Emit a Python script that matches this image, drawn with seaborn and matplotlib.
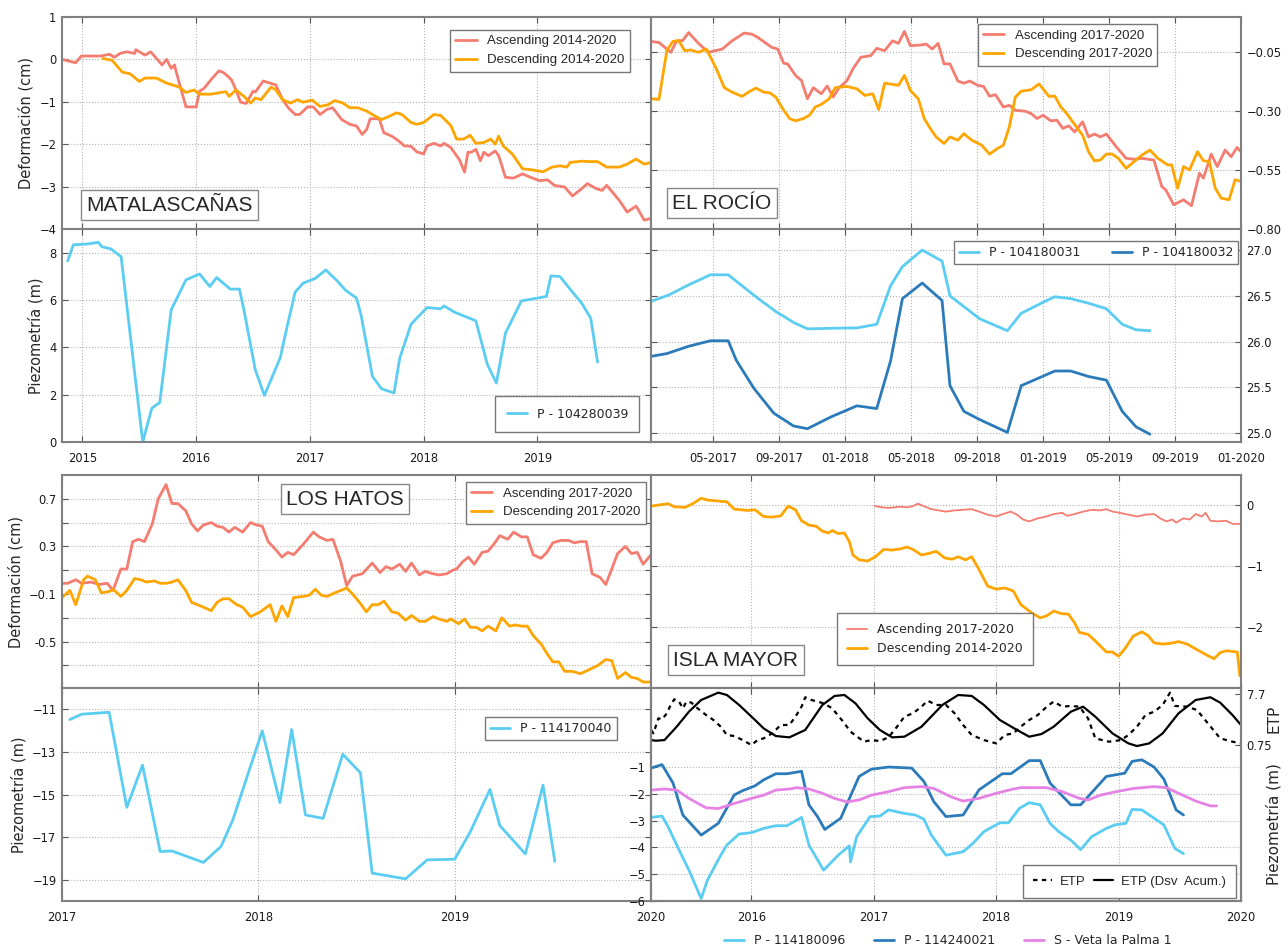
import matplotlib
matplotlib.use('Agg')
import matplotlib.pyplot as plt
import pandas as pd
import seaborn as sns

# Colores
ASC = '#F47C70'
DESC = '#FFA500'
AZUL_CLARO = '#5BCDF2'
AZUL = '#2B7BBA'
VIOLETA = '#E583E5'

# ---- datos: (año decimal, valor) ----
# MATALASCAÑAS - deformación (cm)
mat_asc = [(2014.82, 0.00), (2014.94, -0.08), (2014.99, 0.08), (2015.16, 0.08), (2015.24, 0.12),
           (2015.28, 0.05), (2015.33, 0.14), (2015.39, 0.18), (2015.46, 0.14), (2015.47, 0.23),
           (2015.55, 0.10), (2015.60, 0.18), (2015.70, -0.13), (2015.74, 0.00), (2015.78, -0.21),
           (2015.81, -0.13), (2015.82, -0.25), (2015.91, -1.12), (2016.00, -1.12), (2016.03, -0.75),
           (2016.07, -0.68), (2016.13, -0.48), (2016.20, -0.27), (2016.24, -0.31), (2016.28, -0.40),
           (2016.31, -0.48), (2016.35, -0.72), (2016.39, -1.01), (2016.44, -1.04), (2016.50, -0.75),
           (2016.52, -0.77), (2016.59, -0.51), (2016.65, -0.56), (2016.70, -0.60), (2016.76, -0.95),
           (2016.81, -1.14), (2016.87, -1.30), (2016.91, -1.30), (2016.98, -1.12), (2017.03, -1.12),
           (2017.09, -1.30), (2017.15, -1.18), (2017.20, -1.14), (2017.28, -1.42), (2017.35, -1.53),
           (2017.41, -1.57), (2017.46, -1.77), (2017.50, -1.65), (2017.53, -1.40), (2017.61, -1.40),
           (2017.65, -1.73), (2017.72, -1.81), (2017.78, -1.92), (2017.83, -2.04), (2017.89, -2.05),
           (2017.94, -2.18), (2018.00, -2.23), (2018.03, -2.04), (2018.09, -1.98), (2018.15, -2.04),
           (2018.18, -1.98), (2018.24, -2.08), (2018.29, -2.27), (2018.32, -2.39), (2018.36, -2.66),
           (2018.39, -2.19), (2018.42, -2.19), (2018.46, -2.12), (2018.50, -2.39), (2018.53, -2.19),
           (2018.57, -2.27), (2018.63, -2.16), (2018.66, -2.27), (2018.72, -2.78), (2018.79, -2.80),
           (2018.87, -2.70), (2018.94, -2.78), (2019.02, -2.86), (2019.09, -2.84), (2019.15, -2.97),
           (2019.24, -3.01), (2019.31, -3.22), (2019.39, -3.05), (2019.44, -2.93), (2019.52, -3.05),
           (2019.57, -3.09), (2019.61, -2.97), (2019.66, -3.13), (2019.72, -3.32), (2019.79, -3.60),
           (2019.87, -3.46), (2019.94, -3.79), (2020.00, -3.75)]
mat_desc = [(2015.18, 0.02), (2015.26, -0.02), (2015.35, -0.30), (2015.42, -0.34), (2015.50, -0.52),
            (2015.55, -0.44), (2015.65, -0.44), (2015.74, -0.56), (2015.85, -0.65), (2015.91, -0.78),
            (2015.98, -0.72), (2016.03, -0.82), (2016.13, -0.82), (2016.26, -0.76), (2016.29, -0.87),
            (2016.35, -0.72), (2016.42, -0.87), (2016.48, -1.03), (2016.52, -0.91), (2016.57, -0.95),
            (2016.66, -0.65), (2016.70, -0.72), (2016.76, -0.95), (2016.83, -1.03), (2016.89, -0.95),
            (2016.94, -1.01), (2017.02, -0.96), (2017.09, -1.11), (2017.16, -1.07), (2017.22, -0.97),
            (2017.29, -1.03), (2017.35, -1.14), (2017.42, -1.14), (2017.50, -1.22), (2017.55, -1.30),
            (2017.63, -1.42), (2017.70, -1.34), (2017.76, -1.26), (2017.81, -1.30), (2017.89, -1.49),
            (2017.94, -1.53), (2018.00, -1.49), (2018.09, -1.30), (2018.15, -1.32), (2018.24, -1.56),
            (2018.29, -1.88), (2018.35, -1.88), (2018.41, -1.79), (2018.46, -1.98), (2018.53, -1.96),
            (2018.59, -1.88), (2018.63, -2.00), (2018.66, -1.81), (2018.70, -2.04), (2018.78, -2.23),
            (2018.87, -2.58), (2018.94, -2.60), (2019.05, -2.65), (2019.13, -2.54), (2019.20, -2.51),
            (2019.26, -2.54), (2019.29, -2.43), (2019.39, -2.40), (2019.46, -2.41), (2019.53, -2.41),
            (2019.61, -2.54), (2019.72, -2.54), (2019.79, -2.47), (2019.87, -2.35), (2019.94, -2.47),
            (2020.00, -2.43)]

# P - 104280039 (m)
p_104280039 = [(2014.87, 7.65), (2014.92, 8.33), (2015.05, 8.37), (2015.14, 8.44), (2015.17, 8.25),
               (2015.25, 8.16), (2015.34, 7.83), (2015.53, 0.00), (2015.61, 1.43), (2015.68, 1.67),
               (2015.78, 5.58), (2015.91, 6.85), (2016.03, 7.10), (2016.12, 6.57), (2016.18, 6.95),
               (2016.30, 6.46), (2016.38, 6.46), (2016.42, 5.58), (2016.52, 3.05), (2016.60, 1.97),
               (2016.74, 3.57), (2016.80, 4.88), (2016.87, 6.33), (2016.94, 6.71), (2017.05, 6.92),
               (2017.14, 7.27), (2017.24, 6.81), (2017.31, 6.43), (2017.41, 6.08), (2017.45, 5.37),
               (2017.55, 2.77), (2017.63, 2.25), (2017.74, 2.07), (2017.79, 3.54), (2017.89, 4.98),
               (2018.03, 5.68), (2018.15, 5.63), (2018.18, 5.75), (2018.27, 5.49), (2018.46, 5.12),
               (2018.56, 3.29), (2018.64, 2.49), (2018.72, 4.60), (2018.86, 5.96), (2019.08, 6.15),
               (2019.12, 7.02), (2019.20, 6.99), (2019.30, 6.39), (2019.39, 5.87), (2019.47, 5.23),
               (2019.53, 3.38)]

# EL ROCÍO - deformación (cm)
roc_asc = [(2017.02, -0.004), (2017.06, -0.008), (2017.12, -0.050), (2017.15, -0.001), (2017.18, 0.000),
           (2017.21, 0.034), (2017.26, -0.012), (2017.31, -0.050), (2017.38, -0.036), (2017.43, -0.001),
           (2017.49, 0.032), (2017.53, 0.027), (2017.56, 0.013), (2017.63, -0.029), (2017.66, -0.036),
           (2017.69, -0.096), (2017.71, -0.099), (2017.75, -0.148), (2017.78, -0.170), (2017.81, -0.247),
           (2017.84, -0.200), (2017.88, -0.226), (2017.91, -0.193), (2017.94, -0.240), (2017.97, -0.200),
           (2018.01, -0.170), (2018.04, -0.120), (2018.08, -0.071), (2018.13, -0.064), (2018.16, -0.033),
           (2018.20, -0.043), (2018.24, -0.001), (2018.27, -0.012), (2018.30, 0.039), (2018.33, -0.022),
           (2018.38, -0.019), (2018.41, -0.015), (2018.44, -0.036), (2018.47, -0.012), (2018.50, -0.099),
           (2018.53, -0.099), (2018.57, -0.172), (2018.60, -0.181), (2018.63, -0.172), (2018.67, -0.190),
           (2018.70, -0.195), (2018.73, -0.236), (2018.76, -0.230), (2018.80, -0.282), (2018.83, -0.275),
           (2018.86, -0.296), (2018.91, -0.300), (2018.94, -0.310), (2018.97, -0.331), (2019.00, -0.317),
           (2019.04, -0.341), (2019.07, -0.338), (2019.10, -0.373), (2019.13, -0.362), (2019.16, -0.388),
           (2019.20, -0.345), (2019.23, -0.409), (2019.26, -0.397), (2019.29, -0.409), (2019.32, -0.397),
           (2019.37, -0.451), (2019.42, -0.500), (2019.46, -0.504), (2019.50, -0.500), (2019.53, -0.504),
           (2019.56, -0.507), (2019.60, -0.620), (2019.62, -0.634), (2019.66, -0.697), (2019.71, -0.676),
           (2019.75, -0.701), (2019.79, -0.563), (2019.81, -0.584), (2019.85, -0.482), (2019.88, -0.535),
           (2019.92, -0.465), (2019.95, -0.493), (2019.98, -0.454), (2020.00, -0.472)]
roc_desc = [(2017.02, -0.247), (2017.06, -0.250), (2017.10, -0.043), (2017.13, -0.004), (2017.16, 0.000),
            (2017.19, -0.043), (2017.22, -0.040), (2017.26, -0.050), (2017.30, -0.036), (2017.35, -0.120),
            (2017.39, -0.200), (2017.43, -0.219), (2017.48, -0.237), (2017.52, -0.215), (2017.55, -0.202),
            (2017.59, -0.219), (2017.62, -0.222), (2017.65, -0.240), (2017.69, -0.296), (2017.72, -0.331),
            (2017.75, -0.341), (2017.79, -0.331), (2017.82, -0.317), (2017.85, -0.282), (2017.88, -0.271),
            (2017.92, -0.247), (2017.95, -0.200), (2018.01, -0.195), (2018.06, -0.205), (2018.10, -0.233),
            (2018.14, -0.226), (2018.17, -0.293), (2018.20, -0.181), (2018.27, -0.190), (2018.30, -0.148),
            (2018.33, -0.212), (2018.37, -0.247), (2018.40, -0.331), (2018.43, -0.373), (2018.46, -0.409),
            (2018.50, -0.437), (2018.53, -0.409), (2018.57, -0.423), (2018.60, -0.395), (2018.64, -0.423),
            (2018.69, -0.444), (2018.73, -0.482), (2018.77, -0.458), (2018.80, -0.444), (2018.83, -0.366),
            (2018.86, -0.240), (2018.89, -0.215), (2018.94, -0.209), (2018.98, -0.184), (2019.03, -0.237),
            (2019.06, -0.236), (2019.09, -0.282), (2019.12, -0.310), (2019.15, -0.345), (2019.20, -0.402),
            (2019.23, -0.472), (2019.26, -0.511), (2019.29, -0.507), (2019.32, -0.482), (2019.35, -0.482),
            (2019.38, -0.500), (2019.42, -0.542), (2019.46, -0.514), (2019.50, -0.486), (2019.54, -0.465),
            (2019.58, -0.500), (2019.63, -0.528), (2019.65, -0.528), (2019.68, -0.627), (2019.71, -0.535),
            (2019.74, -0.549), (2019.78, -0.472), (2019.81, -0.510), (2019.84, -0.514), (2019.87, -0.627),
            (2019.90, -0.669), (2019.94, -0.676), (2019.97, -0.591), (2020.00, -0.598)]

# P - 104180031 / P - 104180032 (m)
p_104180031 = [(2017.02, 26.44), (2017.11, 26.51), (2017.21, 26.62), (2017.32, 26.73), (2017.41, 26.73),
               (2017.55, 26.49), (2017.65, 26.33), (2017.74, 26.21), (2017.81, 26.14), (2018.01, 26.15),
               (2018.06, 26.15), (2018.16, 26.19), (2018.23, 26.61), (2018.29, 26.82), (2018.39, 27.00),
               (2018.49, 26.88), (2018.53, 26.50), (2018.59, 26.40), (2018.68, 26.25), (2018.82, 26.12),
               (2018.89, 26.31), (2019.01, 26.44), (2019.06, 26.49), (2019.14, 26.47), (2019.23, 26.42),
               (2019.32, 26.36), (2019.40, 26.19), (2019.47, 26.13), (2019.54, 26.12)]
p_104180032 = [(2017.02, 25.84), (2017.10, 25.87), (2017.21, 25.95), (2017.32, 26.01), (2017.41, 26.01),
               (2017.45, 25.80), (2017.54, 25.49), (2017.64, 25.22), (2017.74, 25.08), (2017.81, 25.05),
               (2017.93, 25.18), (2018.06, 25.30), (2018.16, 25.27), (2018.23, 25.79), (2018.29, 26.47),
               (2018.39, 26.64), (2018.49, 26.45), (2018.53, 25.52), (2018.60, 25.24), (2018.68, 25.15),
               (2018.82, 25.01), (2018.89, 25.52), (2019.06, 25.68), (2019.14, 25.68), (2019.23, 25.62),
               (2019.32, 25.58), (2019.40, 25.24), (2019.47, 25.07), (2019.54, 24.99)]

# LOS HATOS - deformación (cm)
hat_asc = [(2017.00, -0.01), (2017.03, -0.01), (2017.07, 0.02), (2017.10, -0.01), (2017.15, 0.00),
           (2017.19, -0.02), (2017.23, -0.01), (2017.26, -0.07), (2017.30, 0.11), (2017.33, 0.11),
           (2017.36, 0.34), (2017.39, 0.36), (2017.42, 0.34), (2017.46, 0.49), (2017.49, 0.70),
           (2017.53, 0.82), (2017.56, 0.66), (2017.59, 0.66), (2017.63, 0.60), (2017.66, 0.49),
           (2017.69, 0.43), (2017.72, 0.48), (2017.76, 0.50), (2017.79, 0.47), (2017.82, 0.46),
           (2017.85, 0.42), (2017.88, 0.46), (2017.92, 0.42), (2017.96, 0.50), (2017.99, 0.48),
           (2018.02, 0.47), (2018.05, 0.34), (2018.09, 0.27), (2018.12, 0.21), (2018.15, 0.25),
           (2018.18, 0.23), (2018.23, 0.32), (2018.28, 0.42), (2018.31, 0.38), (2018.35, 0.35),
           (2018.38, 0.36), (2018.42, 0.17), (2018.45, -0.03), (2018.48, 0.05), (2018.53, 0.07),
           (2018.58, 0.16), (2018.62, 0.08), (2018.65, 0.13), (2018.68, 0.11), (2018.72, 0.15),
           (2018.75, 0.09), (2018.78, 0.16), (2018.82, 0.06), (2018.85, 0.09), (2018.89, 0.07),
           (2018.92, 0.06), (2018.96, 0.07), (2018.99, 0.10), (2019.01, 0.11), (2019.04, 0.17),
           (2019.07, 0.21), (2019.10, 0.15), (2019.14, 0.25), (2019.17, 0.26), (2019.20, 0.32),
           (2019.23, 0.39), (2019.27, 0.36), (2019.30, 0.42), (2019.34, 0.38), (2019.37, 0.38),
           (2019.40, 0.23), (2019.44, 0.20), (2019.47, 0.25), (2019.50, 0.33), (2019.54, 0.35),
           (2019.58, 0.35), (2019.61, 0.33), (2019.64, 0.34), (2019.67, 0.34), (2019.70, 0.07),
           (2019.74, 0.04), (2019.77, -0.02), (2019.83, 0.24), (2019.87, 0.30), (2019.90, 0.24),
           (2019.93, 0.25), (2019.96, 0.15), (2020.00, 0.23)]
hat_desc = [(2017.00, -0.13), (2017.04, -0.07), (2017.07, -0.19), (2017.11, 0.02), (2017.13, 0.05),
            (2017.17, 0.02), (2017.20, -0.09), (2017.24, -0.08), (2017.26, -0.06), (2017.30, -0.12),
            (2017.33, -0.07), (2017.37, 0.03), (2017.40, 0.02), (2017.43, 0.00), (2017.47, 0.01),
            (2017.50, -0.01), (2017.53, -0.01), (2017.56, 0.00), (2017.59, 0.02), (2017.63, -0.07),
            (2017.66, -0.17), (2017.72, -0.21), (2017.76, -0.24), (2017.79, -0.17), (2017.82, -0.14),
            (2017.85, -0.14), (2017.89, -0.19), (2017.92, -0.21), (2017.96, -0.29), (2018.01, -0.25),
            (2018.06, -0.19), (2018.09, -0.33), (2018.12, -0.20), (2018.15, -0.29), (2018.18, -0.13),
            (2018.23, -0.12), (2018.26, -0.11), (2018.29, -0.06), (2018.32, -0.11), (2018.35, -0.12),
            (2018.39, -0.09), (2018.45, -0.05), (2018.48, -0.10), (2018.52, -0.18), (2018.55, -0.25),
            (2018.58, -0.19), (2018.61, -0.19), (2018.64, -0.16), (2018.68, -0.25), (2018.71, -0.26),
            (2018.75, -0.32), (2018.78, -0.28), (2018.82, -0.33), (2018.85, -0.33), (2018.89, -0.29),
            (2018.92, -0.31), (2018.96, -0.33), (2018.98, -0.31), (2019.02, -0.35), (2019.05, -0.31),
            (2019.08, -0.38), (2019.11, -0.38), (2019.14, -0.41), (2019.17, -0.37), (2019.21, -0.41),
            (2019.24, -0.30), (2019.28, -0.37), (2019.31, -0.36), (2019.34, -0.37), (2019.37, -0.37),
            (2019.40, -0.45), (2019.44, -0.52), (2019.47, -0.60), (2019.50, -0.67), (2019.53, -0.67),
            (2019.56, -0.75), (2019.60, -0.75), (2019.64, -0.77), (2019.68, -0.74), (2019.73, -0.70),
            (2019.77, -0.65), (2019.80, -0.66), (2019.83, -0.81), (2019.87, -0.76), (2019.90, -0.80),
            (2019.93, -0.81), (2019.96, -0.84), (2020.00, -0.84)]

# P - 114170040 (m)
p_114170040 = [(2017.04, -11.48), (2017.10, -11.23), (2017.24, -11.14), (2017.33, -15.60), (2017.41, -13.62),
               (2017.50, -17.68), (2017.56, -17.65), (2017.72, -18.19), (2017.81, -17.44), (2017.87, -16.19),
               (2018.02, -12.01), (2018.11, -15.38), (2018.17, -11.95), (2018.24, -15.96), (2018.33, -16.12),
               (2018.43, -13.11), (2018.52, -13.98), (2018.58, -18.69), (2018.75, -18.96), (2018.86, -18.07),
               (2019.00, -18.04), (2019.08, -16.74), (2019.18, -14.76), (2019.23, -16.46), (2019.36, -17.79),
               (2019.45, -14.56), (2019.51, -18.14)]

# ISLA MAYOR - deformación (cm)
isl_asc = [(2017.01, -0.02), (2017.07, -0.04), (2017.12, -0.05), (2017.17, -0.04), (2017.22, -0.03),
           (2017.27, -0.04), (2017.32, -0.02), (2017.36, 0.02), (2017.42, -0.03), (2017.47, -0.07),
           (2017.53, -0.09), (2017.59, -0.11), (2017.66, -0.09), (2017.73, -0.08), (2017.80, -0.07),
           (2017.86, -0.11), (2017.93, -0.16), (2018.00, -0.19), (2018.07, -0.14), (2018.12, -0.11),
           (2018.17, -0.16), (2018.22, -0.24), (2018.27, -0.27), (2018.34, -0.22), (2018.41, -0.19),
           (2018.47, -0.15), (2018.54, -0.13), (2018.58, -0.18), (2018.64, -0.15), (2018.71, -0.11),
           (2018.78, -0.08), (2018.85, -0.09), (2018.90, -0.07), (2018.95, -0.11), (2019.01, -0.13),
           (2019.08, -0.16), (2019.15, -0.19), (2019.22, -0.16), (2019.29, -0.15), (2019.34, -0.22),
           (2019.39, -0.27), (2019.44, -0.24), (2019.47, -0.29), (2019.53, -0.22), (2019.58, -0.24),
           (2019.63, -0.15), (2019.68, -0.19), (2019.71, -0.13), (2019.75, -0.26), (2019.81, -0.27),
           (2019.88, -0.26), (2019.93, -0.31), (2020.00, -0.31)]
isl_desc = [(2015.18, -0.02), (2015.25, 0.00), (2015.32, 0.02), (2015.37, -0.03), (2015.46, -0.04),
            (2015.53, 0.03), (2015.59, 0.11), (2015.64, 0.08), (2015.80, 0.05), (2015.86, -0.07),
            (2015.97, -0.09), (2016.03, -0.08), (2016.10, -0.19), (2016.17, -0.20), (2016.24, -0.18),
            (2016.30, -0.02), (2016.36, -0.08), (2016.41, -0.26), (2016.47, -0.33), (2016.53, -0.35),
            (2016.58, -0.43), (2016.63, -0.46), (2016.66, -0.42), (2016.71, -0.47), (2016.76, -0.46),
            (2016.80, -0.60), (2016.83, -0.82), (2016.88, -0.90), (2016.95, -0.92), (2017.02, -0.84),
            (2017.08, -0.73), (2017.15, -0.74), (2017.22, -0.72), (2017.27, -0.69), (2017.32, -0.73),
            (2017.39, -0.82), (2017.46, -0.79), (2017.51, -0.76), (2017.58, -0.87), (2017.64, -0.89),
            (2017.69, -0.85), (2017.75, -0.90), (2017.80, -0.85), (2017.86, -1.06), (2017.93, -1.33),
            (2018.00, -1.38), (2018.07, -1.36), (2018.14, -1.41), (2018.20, -1.63), (2018.29, -1.77),
            (2018.36, -1.85), (2018.41, -1.82), (2018.47, -1.74), (2018.53, -1.78), (2018.59, -1.79),
            (2018.64, -1.93), (2018.68, -2.09), (2018.75, -2.12), (2018.81, -2.23), (2018.90, -2.41),
            (2018.95, -2.41), (2019.00, -2.48), (2019.05, -2.36), (2019.12, -2.15), (2019.19, -2.08),
            (2019.24, -2.14), (2019.29, -2.26), (2019.36, -2.28), (2019.42, -2.27), (2019.49, -2.24),
            (2019.56, -2.28), (2019.63, -2.36), (2019.71, -2.45), (2019.78, -2.52), (2019.83, -2.42),
            (2019.88, -2.39), (2019.97, -2.41), (2019.99, -2.80), (2020.00, -2.80)]

# ETP y ETP (desviación acumulada)
etp = [(2015.18, 2.80), (2015.20, 2.34), (2015.24, 4.39), (2015.27, 4.25), (2015.31, 5.07), (2015.34, 6.20),
       (2015.37, 6.97), (2015.41, 6.66), (2015.44, 5.75), (2015.47, 6.66), (2015.51, 6.52), (2015.56, 5.75),
       (2015.63, 4.84), (2015.69, 4.16), (2015.75, 3.25), (2015.80, 2.12), (2015.86, 1.98), (2015.93, 1.43),
       (2016.00, 0.75), (2016.05, 1.43), (2016.10, 1.66), (2016.17, 2.34), (2016.24, 3.48), (2016.31, 3.48),
       (2016.36, 4.61), (2016.41, 5.97), (2016.44, 7.25), (2016.49, 6.88), (2016.54, 6.66), (2016.59, 6.43),
       (2016.66, 5.75), (2016.75, 3.93), (2016.81, 2.57), (2016.92, 1.21), (2016.98, 1.43), (2017.05, 1.30),
       (2017.12, 1.80), (2017.19, 3.25), (2017.25, 4.61), (2017.32, 5.07), (2017.39, 5.97), (2017.44, 6.79),
       (2017.51, 6.20), (2017.59, 6.20), (2017.66, 5.07), (2017.73, 3.48), (2017.80, 2.12), (2017.90, 1.43),
       (2018.00, 0.98), (2018.07, 2.12), (2018.14, 2.34), (2018.20, 3.25), (2018.27, 4.16), (2018.34, 4.84),
       (2018.42, 6.07), (2018.47, 6.66), (2018.54, 5.97), (2018.61, 6.07), (2018.68, 5.97), (2018.75, 4.39),
       (2018.81, 1.66), (2018.92, 1.21), (2019.02, 1.43), (2019.08, 2.12), (2019.15, 3.25), (2019.22, 4.84),
       (2019.29, 5.29), (2019.36, 6.20), (2019.42, 7.88), (2019.46, 6.07), (2019.56, 5.97), (2019.64, 5.52),
       (2019.73, 3.70), (2019.83, 1.66), (2019.93, 1.21), (2020.00, 0.98)]
etp_acum = [(2015.18, 1.43), (2015.22, 1.34), (2015.29, 1.43), (2015.39, 3.25), (2015.49, 5.29), (2015.59, 6.88),
            (2015.73, 7.88), (2015.80, 7.56), (2015.90, 6.20), (2016.03, 4.16), (2016.10, 3.02), (2016.20, 1.98),
            (2016.31, 1.80), (2016.44, 2.80), (2016.58, 6.20), (2016.68, 7.43), (2016.76, 7.56), (2016.85, 6.43),
            (2016.95, 4.39), (2017.05, 2.80), (2017.15, 1.80), (2017.25, 1.89), (2017.39, 3.25), (2017.56, 6.20),
            (2017.69, 7.56), (2017.80, 7.43), (2017.90, 6.20), (2018.03, 4.16), (2018.17, 2.80), (2018.27, 1.89),
            (2018.37, 2.25), (2018.47, 3.25), (2018.61, 5.29), (2018.71, 5.97), (2018.81, 4.61), (2018.95, 2.34),
            (2019.08, 0.98), (2019.15, 0.62), (2019.25, 0.98), (2019.36, 2.34), (2019.49, 5.07), (2019.63, 6.88),
            (2019.75, 7.25), (2019.83, 6.52), (2019.93, 4.84), (2020.00, 3.48)]

# Piezometría Isla Mayor (m)
p_114180096 = [(2015.18, -2.88), (2015.27, -2.83), (2015.32, -3.23), (2015.41, -4.10), (2015.49, -4.85),
               (2015.59, -5.91), (2015.64, -5.23), (2015.75, -4.29), (2015.80, -3.91), (2015.90, -3.50),
               (2016.00, -3.45), (2016.10, -3.29), (2016.20, -3.19), (2016.29, -3.19), (2016.41, -2.88),
               (2016.47, -3.91), (2016.59, -4.85), (2016.71, -4.29), (2016.80, -3.94), (2016.81, -4.54),
               (2016.86, -3.60), (2016.97, -2.85), (2017.05, -2.83), (2017.12, -2.60), (2017.25, -2.73),
               (2017.34, -2.79), (2017.41, -2.95), (2017.47, -3.54), (2017.59, -4.29), (2017.73, -4.16),
               (2017.81, -3.85), (2017.90, -3.41), (2018.03, -3.08), (2018.10, -3.08), (2018.19, -2.54),
               (2018.27, -2.33), (2018.36, -2.41), (2018.44, -3.10), (2018.51, -3.41), (2018.61, -3.73),
               (2018.69, -4.08), (2018.78, -3.60), (2018.90, -3.29), (2018.97, -3.16), (2019.06, -3.10),
               (2019.11, -2.58), (2019.19, -2.60), (2019.37, -3.16), (2019.46, -4.04), (2019.53, -4.23)]
p_114240021 = [(2015.18, -1.04), (2015.27, -0.91), (2015.36, -1.60), (2015.44, -2.79), (2015.59, -3.54),
               (2015.73, -3.10), (2015.86, -2.04), (2015.93, -1.88), (2016.03, -1.70), (2016.10, -1.48),
               (2016.20, -1.25), (2016.29, -1.25), (2016.41, -1.16), (2016.47, -2.41), (2016.54, -2.85),
               (2016.60, -3.33), (2016.73, -2.91), (2016.88, -1.35), (2016.98, -1.08), (2017.12, -1.00),
               (2017.31, -1.04), (2017.41, -1.54), (2017.49, -2.29), (2017.59, -2.85), (2017.73, -2.79),
               (2017.86, -1.85), (2018.05, -1.25), (2018.12, -1.25), (2018.27, -0.76), (2018.36, -0.76),
               (2018.44, -1.60), (2018.61, -2.41), (2018.69, -2.41), (2018.90, -1.35), (2019.05, -1.23),
               (2019.11, -0.79), (2019.19, -0.73), (2019.29, -1.00), (2019.37, -1.45), (2019.47, -2.60),
               (2019.53, -2.79)]
s_veta_palma = [(2015.18, -1.86), (2015.29, -1.82), (2015.39, -1.86), (2015.49, -2.17), (2015.63, -2.52),
                (2015.73, -2.55), (2015.86, -2.36), (2016.00, -2.17), (2016.10, -2.05), (2016.20, -1.86),
                (2016.31, -1.82), (2016.37, -1.77), (2016.47, -1.82), (2016.58, -1.98), (2016.68, -2.17),
                (2016.78, -2.30), (2016.88, -2.23), (2016.98, -2.05), (2017.12, -1.92), (2017.25, -1.77),
                (2017.39, -1.73), (2017.49, -1.80), (2017.63, -2.11), (2017.73, -2.27), (2017.86, -2.17),
                (2018.00, -1.98), (2018.14, -1.82), (2018.20, -1.77), (2018.31, -1.77), (2018.41, -1.77),
                (2018.54, -1.92), (2018.68, -2.17), (2018.75, -2.23), (2018.85, -2.05), (2018.98, -1.92),
                (2019.12, -1.80), (2019.29, -1.73), (2019.39, -1.77), (2019.49, -1.98), (2019.63, -2.27),
                (2019.75, -2.45), (2019.80, -2.45)]

# ticks
years_a = [2015, 2016, 2017, 2018, 2019]
years_b = [2017, 2018, 2019, 2020]
years_c = [2016, 2017, 2018, 2019, 2020]
month_ticks = [2017 + 4/12, 2017 + 8/12, 2018, 2018 + 4/12, 2018 + 8/12, 2019, 2019 + 4/12, 2019 + 8/12, 2020]
month_labels = ['05-2017', '09-2017', '01-2018', '05-2018', '09-2018', '01-2019', '05-2019', '09-2019', '01-2020']

sns.set_style('white')
plt.rcParams['font.family'] = ['DejaVu Sans']

fig = plt.figure(figsize=(12.88, 9.48), dpi=100)
W, H = 1288.0, 948.0


def add(x0, x1, top, bottom):
    return fig.add_axes([x0 / W, 1 - bottom / H, (x1 - x0) / W, (bottom - top) / H])


def trazo(ax, pts, color, label, lw=2.0, ls='-'):
    df = pd.DataFrame(pts, columns=['fecha', 'valor'])
    sns.lineplot(data=df, x='fecha', y='valor', ax=ax, color=color, linewidth=lw,
                 linestyle=ls, label=label, sort=False, estimator=None)


def estilo(ax, lado='left', xlabels=True):
    for s in ax.spines.values():
        s.set_color('#808080')
        s.set_linewidth(1.5)
    ax.tick_params(direction='in', length=4, width=0.8, color='#555555', labelsize=8.3,
                   labelcolor='#1a1a1a', top=True, bottom=True, left=True, right=True)
    ax.tick_params(axis='x', pad=7, labelbottom=xlabels)
    ax.tick_params(axis='y', pad=4)
    if lado == 'right':
        ax.tick_params(axis='y', labelleft=False, labelright=True)
    ax.grid(True, ls=':', lw=0.8, color='#b3b3b3')
    ax.set_xlabel('')
    ax.set_ylabel('')


def leyenda(ax, loc, anchor, family='Liberation Sans', size=9.5, ncol=1, **kw):
    kw.setdefault('handlelength', 1.6)
    lg = ax.legend(loc=loc, bbox_to_anchor=anchor, ncol=ncol, prop={'family': family, 'size': size},
                   frameon=True, fancybox=False, framealpha=1, edgecolor='#777777',
                   borderaxespad=0, **kw)
    lg.get_frame().set_linewidth(1.0)
    return lg


def estacion(ax, txt, x, y, ha='left'):
    ax.text(x, y, txt, transform=ax.transAxes, ha=ha, va='center', fontsize=15,
            family='Liberation Sans', zorder=10,
            bbox=dict(boxstyle='square,pad=0.25', fc='white', ec='#888888', lw=1.0))


# ---------------- fila 1 ----------------
ax1 = add(62, 651, 17, 229)
trazo(ax1, mat_asc, ASC, 'Ascending 2014-2020')
trazo(ax1, mat_desc, DESC, 'Descending 2014-2020')
estilo(ax1, xlabels=False)
ax1.set_xlim(2014.82, 2020.0)
ax1.set_ylim(-4, 1)
ax1.set_xticks(years_a)
ax1.set_yticks([1, 0, -1, -2, -3, -4])
ax1.set_ylabel('Deformación (cm)', fontsize=10.5)
leyenda(ax1, 'upper right', (0.964, 0.939))
estacion(ax1, 'MATALASCAÑAS', 0.041, 0.113)

ax2 = add(651, 1241, 17, 229)
trazo(ax2, roc_asc, ASC, 'Ascending 2017-2020')
trazo(ax2, roc_desc, DESC, 'Descending 2017-2020')
estilo(ax2, 'right', xlabels=False)
ax2.set_xlim(2017.02, 2020.0)
ax2.set_ylim(-0.80, 0.10)
ax2.set_xticks(month_ticks)
ax2.set_yticks([-0.05, -0.30, -0.55, -0.80])
ax2.set_yticklabels(['\u22120.05', '\u22120.30', '\u22120.55', '\u22120.80'])
leyenda(ax2, 'upper right', (0.858, 0.967))
estacion(ax2, 'EL ROCÍO', 0.036, 0.122)

# ---------------- fila 2 ----------------
ax3 = add(62, 651, 229, 442)
trazo(ax3, p_104280039, AZUL_CLARO, 'P - 104280039')
estilo(ax3)
ax3.set_xlim(2014.82, 2020.0)
ax3.set_ylim(0, 9)
ax3.set_xticks(years_a)
ax3.set_xticklabels([str(y) for y in years_a])
ax3.set_yticks([0, 2, 4, 6, 8])
ax3.set_ylabel('Piezometría (m)', fontsize=10.5)
leyenda(ax3, 'lower right', (0.98, 0.047), family='DejaVu Sans', size=9, borderpad=0.9)

ax4 = add(651, 1241, 229, 442)
trazo(ax4, p_104180031, AZUL_CLARO, 'P - 104180031')
trazo(ax4, p_104180032, AZUL, 'P - 104180032')
estilo(ax4, 'right')
ax4.set_xlim(2017.02, 2020.0)
ax4.set_ylim(24.905, 27.23)
ax4.set_xticks(month_ticks)
ax4.set_xticklabels(month_labels)
ax4.set_yticks([25.0, 25.5, 26.0, 26.5, 27.0])
leyenda(ax4, 'upper right', (0.995, 0.944), family='DejaVu Sans', size=9, ncol=2, columnspacing=2.5)

# ---------------- fila 3 ----------------
ax5 = add(62, 651, 475, 688)
trazo(ax5, hat_asc, ASC, 'Ascending 2017-2020')
trazo(ax5, hat_desc, DESC, 'Descending 2017-2020')
estilo(ax5, xlabels=False)
ax5.set_xlim(2017, 2020)
ax5.set_ylim(-0.89, 0.9)
ax5.set_xticks(years_b)
ax5.set_yticks([0.7, 0.5, 0.3, 0.1, -0.1, -0.3, -0.5, -0.7])
ax5.set_yticklabels(['0.7', '', '0.3', '', '\u22120.1', '', '-0.5', ''])
ax5.set_ylabel('Deformación (cm)', fontsize=10.5)
leyenda(ax5, 'upper right', (0.991, 0.967))
estacion(ax5, 'LOS HATOS', 0.481, 0.887, ha='center')

ax6 = add(651, 1241, 475, 688)
trazo(ax6, isl_asc, ASC, 'Ascending 2017-2020', lw=1.3)
trazo(ax6, isl_desc, DESC, 'Descending 2014-2020')
estilo(ax6, 'right', xlabels=False)
ax6.set_xlim(2015.18, 2020.0)
ax6.set_ylim(-3.0, 0.49)
ax6.set_xticks(years_c)
ax6.set_yticks([0, -1, -2])
leyenda(ax6, 'center', (0.481, 0.23), family='DejaVu Sans', size=9, borderpad=0.8)
estacion(ax6, 'ISLA MAYOR', 0.038, 0.131)

# ---------------- fila 4 ----------------
ax7 = add(62, 651, 688, 901)
trazo(ax7, p_114170040, AZUL_CLARO, 'P - 114170040')
estilo(ax7)
ax7.set_xlim(2017, 2020)
ax7.set_ylim(-20, -10)
ax7.set_xticks(years_b)
ax7.set_xticklabels([str(y) for y in years_b])
ax7.set_yticks([-11, -13, -15, -17, -19])
ax7.set_ylabel('Piezometría (m)', fontsize=10.5)
leyenda(ax7, 'upper right', (0.942, 0.864), family='DejaVu Sans', size=9)

ax8 = add(651, 1241, 688, 901)
trazo(ax8, p_114180096, AZUL_CLARO, 'P - 114180096')
trazo(ax8, p_114240021, AZUL, 'P - 114240021')
trazo(ax8, s_veta_palma, VIOLETA, 'S - Veta la Palma 1')
estilo(ax8, 'right')
ax8.set_xlim(2015.18, 2020.0)
ax8.set_ylim(-6, 1.95)
ax8.set_xticks(years_c)
ax8.set_xticklabels([str(y) for y in years_c])
ax8.set_yticks([-1, -2, -3, -4, -5, -6])
handles, labels = ax8.get_legend_handles_labels()
ax8.get_legend().remove()
ax8.yaxis.set_label_position('right')
ax8.set_ylabel('Piezometría (m)', fontsize=11)
ax8.yaxis.set_label_coords(1.043, 0.36)

# ETP en eje gemelo
ax8b = ax8.twinx()
trazo(ax8b, etp, 'black', 'ETP', lw=1.6, ls=(0, (2, 2)))
trazo(ax8b, etp_acum, 'black', 'ETP (Dsv  Acum.)', lw=1.6)
ax8b.set_xlim(2015.18, 2020.0)
ax8b.set_ylim(-20.45, 8.51)
ax8b.set_yticks([0.75, 7.7])
ax8b.set_yticklabels(['0.75', '7.7'])
ax8b.tick_params(direction='in', length=4, width=0.8, color='#555555', labelsize=8.3,
                 labelcolor='#1a1a1a', pad=4)
for s in ax8b.spines.values():
    s.set_color('#808080')
    s.set_linewidth(1.5)
ax8b.set_xlabel('')
ax8b.set_ylabel('ETP', fontsize=11)
ax8b.yaxis.set_label_coords(1.043, 0.854)
leyenda(ax8b, 'lower right', (0.992, 0.012), size=9.5, ncol=2, borderpad=0.8,
        columnspacing=0.7, handlelength=1.4, handletextpad=0.6)

fig.legend(handles, labels, loc='center', bbox_to_anchor=(948 / W, 1 - 941 / H), ncol=3,
           frameon=False, prop={'family': 'DejaVu Sans', 'size': 9}, handlelength=1.6,
           columnspacing=2.3, borderaxespad=0, borderpad=0)

fig.savefig('out.png', dpi=100)
